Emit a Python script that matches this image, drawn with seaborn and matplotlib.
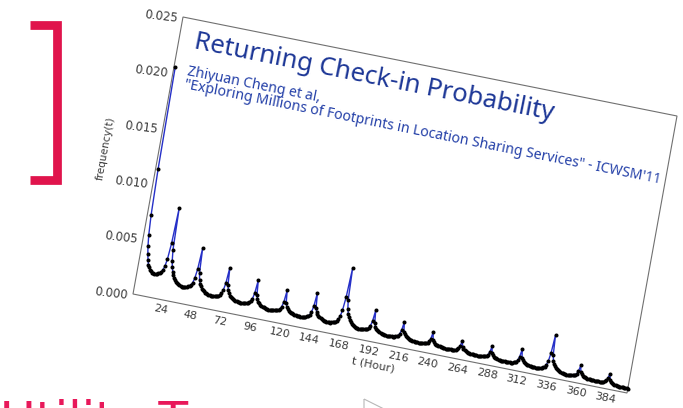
import numpy as np
import pandas as pd
import matplotlib
matplotlib.use("Agg")
import matplotlib.pyplot as plt
import matplotlib.transforms as mtransforms
from matplotlib.patches import Polygon
from matplotlib.lines import Line2D
import seaborn as sns

# ---------------- data (hourly return frequency, in units of 1e-4) ----------------
day00 = [205, 113, 72, 54, 44, 37, 32, 28, 26, 24, 23, 22, 21.5, 21, 21.3, 21.7, 22.4, 23.2, 24.4, 26.3, 29.7, 36.5, 50.8]
day01 = [83, 45.6, 35.4, 30.0, 25.9, 23.2, 21.1, 19.4, 18.1, 17.0, 16.4, 15.7, 15.3, 15.0, 15.0, 15.2, 15.4, 15.8, 16.3, 17.0, 18.1, 20.2, 24.3, 32.8]
day02 = [52, 30, 24, 20.8, 18.4, 16.8, 15.6, 14.6, 13.8, 13.2, 12.8, 12.4, 12.2, 12, 12, 12.1, 12.3, 12.6, 13.0, 13.5, 14.4, 15.9, 19.0, 25.4]
day03 = [40, 24.1, 19.7, 17.4, 15.6, 14.5, 13.6, 12.9, 12.3, 11.9, 11.6, 11.3, 11.1, 11, 11, 11.1, 11.3, 11.5, 11.8, 12.3, 13.0, 14.2, 16.8, 22.0]
day04 = [34, 20.8, 17.2, 15.3, 13.8, 12.9, 12.2, 11.6, 11.1, 10.7, 10.5, 10.2, 10.1, 10, 10, 10.1, 10.2, 10.4, 10.7, 11.1, 11.7, 12.8, 15.0, 19.6]
day05 = [30, 18.7, 15.7, 14.0, 12.8, 12.0, 11.3, 10.8, 10.4, 10.1, 9.9, 9.7, 9.6, 9.5, 9.5, 9.6, 9.8, 10.0, 10.3, 10.8, 11.5, 12.8, 15.4, 20.8]
day06 = [33, 20.1, 16.6, 14.7, 13.3, 12.3, 11.6, 11.0, 10.6, 10.2, 10.0, 9.7, 9.6, 9.5, 9.5, 9.8, 10.1, 10.6, 11.3, 12.3, 13.9, 16.7, 22.4, 34.2]
day07 = [61, 32.4, 24.6, 20.4, 17.3, 15.2, 13.7, 12.4, 11.3, 10.6, 10.0, 9.5, 9.3, 9, 9, 9.1, 9.2, 9.4, 9.7, 10.0, 10.6, 11.7, 13.8, 18.1]
day08 = [28, 17, 14, 12.4, 11.2, 10.4, 9.8, 9.3, 8.9, 8.6, 8.4, 8.2, 8.1, 8, 8, 8.1, 8.2, 8.3, 8.5, 8.8, 9.3, 10.1, 11.8, 15.2]
day09 = [23, 14.5, 12.2, 10.9, 10.0, 9.4, 8.9, 8.5, 8.2, 8.0, 7.8, 7.7, 7.6, 7.5, 7.5, 7.6, 7.6, 7.8, 7.9, 8.1, 8.5, 9.1, 10.4, 13.0]
day10 = [19, 12.4, 10.6, 9.6, 8.9, 8.4, 8.1, 7.8, 7.5, 7.4, 7.2, 7.1, 7.1, 7, 7, 7.1, 7.1, 7.2, 7.4, 7.6, 7.9, 8.4, 9.5, 11.8]
day11 = [17, 11.2, 9.7, 8.8, 8.2, 7.8, 7.4, 7.2, 7.0, 6.8, 6.7, 6.6, 6.6, 6.5, 6.5, 6.6, 6.6, 6.7, 6.9, 7.1, 7.4, 8.0, 9.1, 11.5]
day12 = [17, 11.0, 9.3, 8.4, 7.8, 7.3, 7.0, 6.7, 6.5, 6.3, 6.2, 6.1, 6.1, 6, 6, 6.1, 6.2, 6.3, 6.5, 6.8, 7.2, 8.0, 9.5, 12.7]
day13 = [20, 12.3, 10.2, 9.1, 8.2, 7.7, 7.3, 6.9, 6.6, 6.4, 6.3, 6.1, 6.1, 6, 6, 6.2, 6.4, 6.7, 7.1, 7.8, 8.7, 10.5, 14.0, 21.4]
day14 = [38, 20.1, 15.3, 12.7, 10.7, 9.4, 8.4, 7.6, 7.0, 6.5, 6.2, 5.8, 5.7, 5.5, 5.5, 5.6, 5.6, 5.7, 5.9, 6.1, 6.4, 7.0, 8.1, 10.5]
day15 = [16, 10.0, 8.3, 7.4, 6.8, 6.3, 6.0, 5.7, 5.5, 5.3, 5.2, 5.1, 5.1, 5, 5, 5.0, 5.1, 5.2, 5.3, 5.5, 5.8, 6.3, 7.3, 9.3]
day16 = [14, 8.5, 7.0, 6.2, 5.6, 5.2, 4.9, 4.7, 4.5, 4.3, 4.2, 4.1, 4.1, 4.0, 4.0, 4.0, 4.0]

tick_hours = [24, 48, 72, 96, 120, 144, 168, 192, 216, 240, 264, 288, 312, 336, 360, 384]
tick_labels = [str(h) for h in tick_hours]
ytick_vals = [0.000, 0.005, 0.010, 0.015, 0.020, 0.025]
ytick_labels = ["0.000", "0.005", "0.010", "0.015", "0.020", "0.025"]
x_limits = (0, 400)
y_limits = (0, 0.025)

title = "Returning Check-in Probability"
subtitle1 = "Zhiyuan Cheng et al,"
subtitle2 = "\"Exploring Millions of Footprints in Location Sharing Services\" - ICWSM'11"
xlabel = "t (Hour)"
ylabel = "frequency(t)"
slide_text = "Utility T"

freq_e4 = (day00 + day01 + day02 + day03 + day04 + day05 + day06 + day07 + day08
           + day09 + day10 + day11 + day12 + day13 + day14 + day15 + day16)
hours = np.arange(1, len(freq_e4) + 1)
df = pd.DataFrame({"hour": hours, "frequency": np.array(freq_e4) * 1e-4})

# ---------------- figure ----------------
W, H = 683, 408
sns.set_style("white")
plt.rcParams["font.family"] = ["DejaVu Sans"]

fig = plt.figure(figsize=(W / 100, H / 100), dpi=100)
fig.patch.set_facecolor("white")
ax = fig.add_axes([0, 0, 1, 1])

sns.lineplot(data=df, x="hour", y="frequency", ax=ax, color="#2630c8",
             linewidth=1.0, marker="o", markersize=2.9, markerfacecolor="black",
             markeredgecolor="black", markeredgewidth=0, legend=False)
ax.set_xlim(*x_limits)
ax.set_ylim(*y_limits)
ax.axis("off")

# skewed (photographed) plot frame: origin, x-end and y-top corners in pixels
O_px, XE_px, YT_px = (133, 294), (627, 393), (183, 17)
def frac(p):
    return (p[0] / W, 1 - p[1] / H)
o, xe, yt = frac(O_px), frac(XE_px), frac(YT_px)
skew = mtransforms.Affine2D.from_values(xe[0] - o[0], xe[1] - o[1],
                                        yt[0] - o[0], yt[1] - o[1], o[0], o[1])
tr = ax.transScale + ax.transLimits + skew + fig.transFigure

for ln in ax.lines:
    ln.set_transform(tr)
    ln.set_clip_on(False)
    ln.set_zorder(3)

x0, x1 = x_limits
y0, y1 = y_limits
frame = Polygon([[x0, y0], [x1, y0], [x1, y1], [x0, y1]], closed=True, fill=False,
                edgecolor="#707070", linewidth=0.8, transform=tr, clip_on=False, zorder=2)
ax.add_patch(frame)

# angles of the skewed axes on screen
fig.canvas.draw()
p0 = tr.transform((x0, y0)); px = tr.transform((x1, y0)); py = tr.transform((x0, y1))
xang = np.degrees(np.arctan2(px[1] - p0[1], px[0] - p0[0]))
yang = np.degrees(np.arctan2(py[1] - p0[1], py[0] - p0[0]))

tick_color = "#3a3a3a"
for h, lab in zip(tick_hours, tick_labels):
    ax.text(h, -0.0004, lab, transform=tr, rotation=xang, rotation_mode="anchor",
            ha="center", va="top", fontsize=8, color=tick_color, clip_on=False)
for v, lab in zip(ytick_vals, ytick_labels):
    ax.text(-4, v - 0.0002, lab, transform=tr, rotation=xang * 0.6, rotation_mode="anchor",
            ha="right", va="center", fontsize=8.5, color=tick_color, clip_on=False)

ax.text(198, -0.0020, xlabel, transform=tr, rotation=xang, rotation_mode="anchor",
        ha="center", va="center", fontsize=8, color=tick_color)
ax.text(-42, 0.0122, ylabel, transform=tr, rotation=yang, rotation_mode="anchor",
        ha="center", va="center", fontsize=7.5, color=tick_color)

head_font = ["Noto Sans", "DejaVu Sans"]
t_title = ax.text(12, 0.0225, title, transform=tr, rotation=xang, rotation_mode="anchor",
                  ha="left", va="baseline", fontsize=16, color="#1c3696", family=head_font)
t_sub1 = ax.text(11, 0.0200, subtitle1, transform=tr, rotation=xang, rotation_mode="anchor",
                 ha="left", va="baseline", fontsize=8.5, color="#2440a8", family=head_font)
t_sub2 = ax.text(11, 0.0188, subtitle2, transform=tr, rotation=xang, rotation_mode="anchor",
                 ha="left", va="baseline", fontsize=8.5, color="#2440a8", family=head_font)

renderer = fig.canvas.get_renderer()
def fit_width(t, target_px):
    rot = t.get_rotation()
    t.set_rotation(0)
    w = t.get_window_extent(renderer).width
    t.set_fontsize(t.get_fontsize() * target_px / w)
    t.set_rotation(rot)

fit_width(t_title, 366)
fit_width(t_sub2, 486)
t_sub1.set_fontsize(t_sub2.get_fontsize())

# slide decorations: red bracket, cut-off heading, cursor
bx = [30 / W, 57 / W, 57 / W, 30 / W]
by = [1 - 25 / H, 1 - 25 / H, 1 - 180 / H, 1 - 180 / H]
fig.add_artist(Line2D(bx, by, transform=fig.transFigure, color="#e0144c",
                      linewidth=6.3, solid_joinstyle="miter", solid_capstyle="butt"))
fig.text(0 / W, 1 - 437 / H, slide_text, fontsize=35, color="#e8185a",
         ha="left", va="baseline")
fig.add_artist(Polygon([[364 / W, 1 - 399 / H], [390 / W, 1 - 412 / H], [364 / W, 1 - 412 / H]],
                       closed=True, fill=False, edgecolor="#b8b8b8", linewidth=0.8,
                       transform=fig.transFigure))

fig.savefig("out.png", dpi=100)
